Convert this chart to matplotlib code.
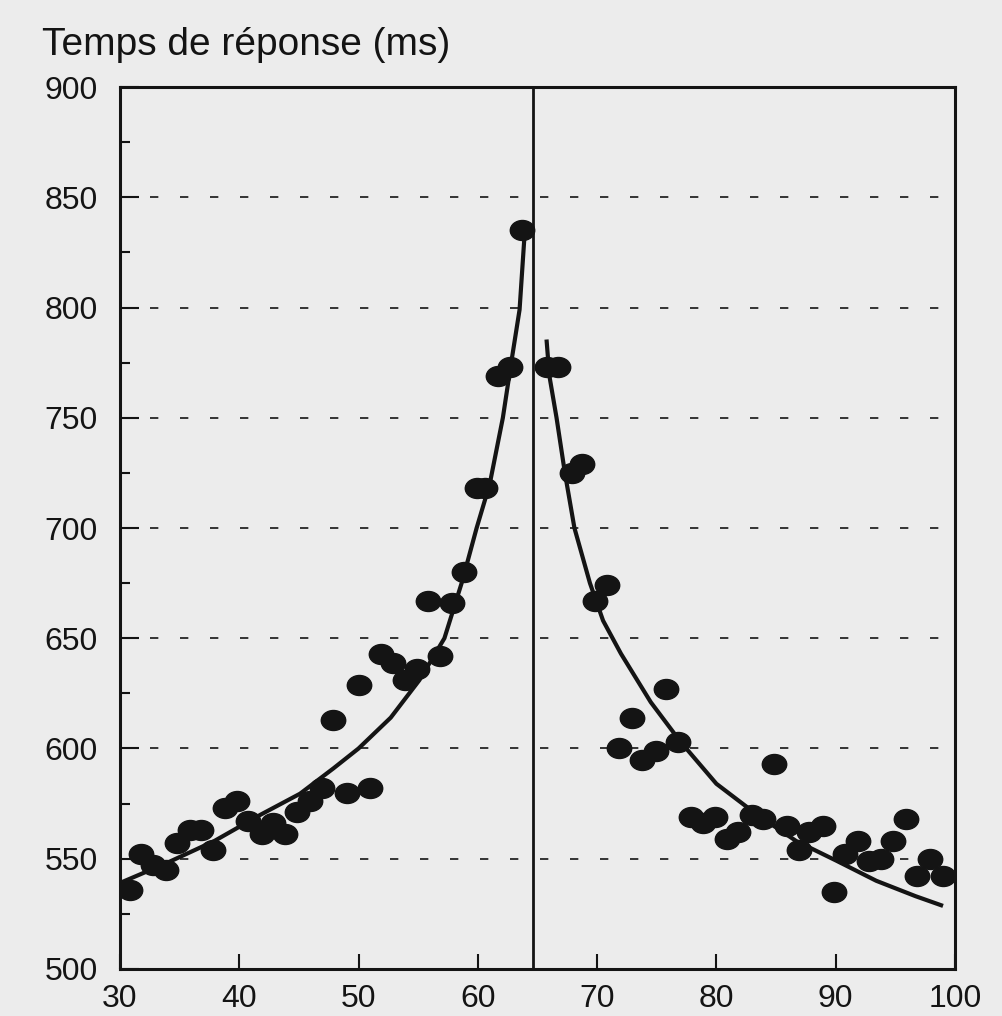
import matplotlib.pyplot as plt
from matplotlib.markers import MarkerStyle
from matplotlib.transforms import Affine2D
from matplotlib.ticker import MultipleLocator

# Data
left_x = [30.8, 31.8, 32.8, 33.9, 34.8, 35.9, 36.8, 37.8, 38.8, 39.8, 40.7, 41.9,
          42.8, 43.8, 44.8, 45.9, 46.9, 47.9, 49.0, 50.0, 51.0, 51.9, 52.9, 53.9,
          54.9, 55.8, 56.8, 57.8, 58.8, 59.9, 60.6, 61.7, 62.7, 63.7]
left_y = [536, 552, 547, 545, 557, 563, 563, 554, 573, 576, 567, 561,
          566, 561, 571, 576, 582, 613, 580, 629, 582, 643, 639, 631,
          636, 667, 642, 666, 680, 718, 718, 769, 773, 835]

right_x = [65.8, 66.7, 67.9, 68.7, 69.8, 70.8, 71.8, 72.9, 73.8, 74.9, 75.8, 76.8,
           77.9, 78.9, 79.9, 80.9, 81.8, 83.0, 83.9, 84.8, 85.9, 86.9, 87.8, 88.9,
           89.9, 90.8, 91.9, 92.8, 93.8, 94.8, 95.9, 96.8, 97.9, 99.0]
right_y = [773, 773, 725, 729, 667, 674, 600, 614, 595, 599, 627, 603,
           569, 566, 569, 559, 562, 570, 568, 593, 565, 554, 562, 565,
           535, 552, 558, 549, 550, 558, 568, 542, 550, 542]

# fitted curves (traced)
curve_left_x = [30.0, 33.9, 37.9, 41.8, 45.1, 47.9, 50.0, 52.7, 55.1, 57.2, 58.7,
                59.9, 61.0, 62.1, 62.8, 63.5, 63.95]
curve_left_y = [539, 548, 558, 570, 579.5, 591, 600, 614, 631, 650, 676,
                700, 720, 750, 775, 799, 835.5]
curve_right_x = [65.76, 66.0, 66.6, 67.3, 68.1, 69.4, 70.5, 72.0, 74.5, 77.0, 80.0,
                 83.4, 86.7, 90.1, 93.4, 96.7, 99.0]
curve_right_y = [785.5, 769, 750, 725, 700, 675, 658, 643, 621, 603, 584,
                 570, 558, 549, 540, 533, 528.6]

split_x = 64.6
ink = "#141414"
paper = "#ececec"

plt.rcParams["font.family"] = ["Liberation Sans", "DejaVu Sans"]

fig = plt.figure(figsize=(10.03, 10.16), dpi=100, facecolor=paper)
ax = fig.add_axes([0.1196, 0.0463, 0.8325, 0.868])
ax.set_facecolor(paper)

ax.set_xlim(30, 100)
ax.set_ylim(500, 900)

# dashed horizontal grid
for gy in range(550, 900, 50):
    ax.axhline(gy, color=ink, lw=1.2, linestyle=(0, (5, 13)), zorder=1)

ax.axvline(split_x, color=ink, lw=2, zorder=2)

ax.plot(curve_left_x, curve_left_y, color=ink, lw=3, solid_capstyle="butt",
        solid_joinstyle="round", zorder=3)
ax.plot(curve_right_x, curve_right_y, color=ink, lw=3, solid_capstyle="butt",
        solid_joinstyle="round", zorder=3)

dot = MarkerStyle("o", transform=Affine2D().scale(1.1, 0.9))
ax.plot(left_x, left_y, linestyle="none", marker=dot, ms=16, color=ink, zorder=4)
ax.plot(right_x, right_y, linestyle="none", marker=dot, ms=16, color=ink, zorder=4)

# ticks
ax.xaxis.set_major_locator(MultipleLocator(10))
ax.yaxis.set_major_locator(MultipleLocator(50))
ax.yaxis.set_minor_locator(MultipleLocator(25))
ax.tick_params(axis="x", which="major", direction="in", length=11, width=1.5,
               labelsize=23, pad=11, colors=ink)
ax.tick_params(axis="y", which="major", direction="in", length=14, width=1.5,
               labelsize=23, pad=16, colors=ink)
ax.tick_params(axis="y", which="minor", direction="in", length=7, width=1.5, colors=ink)
ax.tick_params(top=False, right=False)

for s in ax.spines.values():
    s.set_linewidth(2.2)
    s.set_color(ink)

fig.text(0.042, 0.946, "Temps de réponse (ms)", fontsize=28, color=ink,
         ha="left", va="baseline")

fig.savefig("out.png", dpi=100, facecolor=paper)
